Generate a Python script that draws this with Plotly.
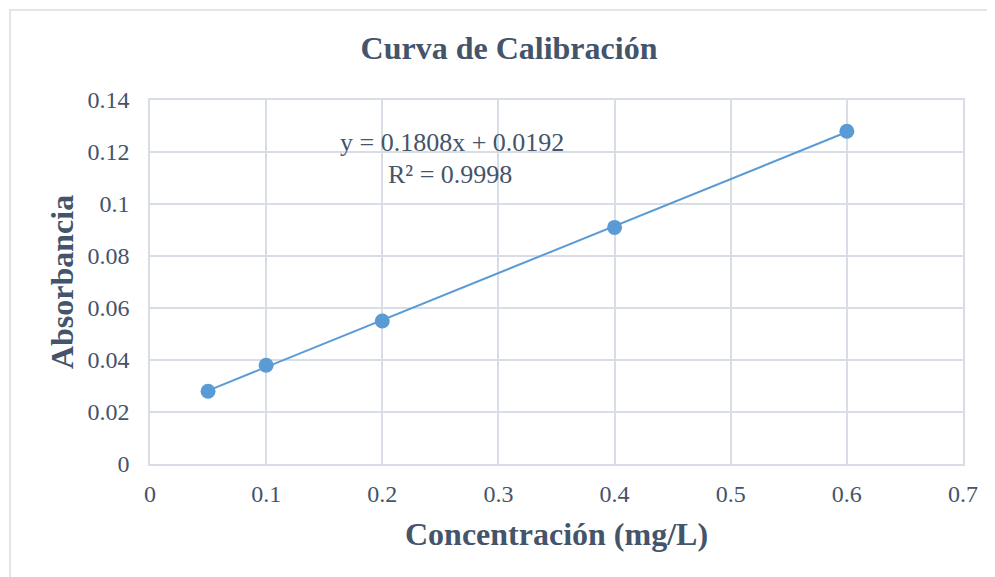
import plotly.graph_objects as go

conc = [0.05, 0.1, 0.2, 0.4, 0.6]
absorb = [0.028, 0.038, 0.055, 0.091, 0.128]
slope = 0.1808
intercept = 0.0192
r2 = 0.9998
x_ticks = [0, 0.1, 0.2, 0.3, 0.4, 0.5, 0.6, 0.7]
y_ticks = [0, 0.02, 0.04, 0.06, 0.08, 0.1, 0.12, 0.14]

text_color = "#44546a"
blue = "#5b9bd5"
grid = "#d9dde6"
font = "Liberation Serif"

trend_x = [min(conc), max(conc)]
trend_y = [slope * v + intercept for v in trend_x]

fig = go.Figure()
fig.add_trace(go.Scatter(x=trend_x, y=trend_y, mode="lines",
                         line=dict(color=blue, width=2), hoverinfo="skip"))
fig.add_trace(go.Scatter(x=conc, y=absorb, mode="markers",
                         marker=dict(color=blue, size=15, line=dict(width=0))))

# page body has an 8px margin, so the figure is 8px smaller and shifted
W, H = 987, 569
fig.update_layout(
    width=W, height=H,
    margin=dict(l=142, r=32, t=92, b=113),
    paper_bgcolor="white", plot_bgcolor="white",
    showlegend=False,
    font=dict(family=font, color=text_color, size=24),
    title=dict(text="<b>Curva de Calibración</b>", x=(509 - 8) / W, xanchor="center",
               y=1 - (48 - 8) / H, yanchor="middle",
               font=dict(family=font, size=32, color=text_color)),
    xaxis=dict(range=[0, 0.7], tickvals=x_ticks, ticktext=[f"{v:g}" for v in x_ticks],
               showgrid=True, gridcolor=grid, gridwidth=1.5, zeroline=False,
               showline=True, linecolor=grid, linewidth=1.5, mirror=True,
               ticks="", ticklabelstandoff=7,
               title=dict(text="<b>Concentración (mg/L)</b>",
                          font=dict(family=font, size=32, color=text_color), standoff=17)),
    yaxis=dict(range=[0, 0.14], tickvals=y_ticks, ticktext=[f"{v:g}" for v in y_ticks],
               showgrid=True, gridcolor=grid, gridwidth=1.5, zeroline=False,
               showline=True, linecolor=grid, linewidth=1.5, mirror=True,
               ticks="", ticklabelstandoff=14,
               title=dict(text="<b>Absorbancia</b>",
                          font=dict(family=font, size=32, color=text_color), standoff=4)),
)

fig.add_annotation(x=0.2596, y=0.1235, xref="x", yref="y",
                   text=f"y = {slope}x + {intercept}",
                   showarrow=False, font=dict(family=font, size=26, color=text_color))
fig.add_annotation(x=0.2585, y=0.1115, xref="x", yref="y",
                   text=f"R² = {r2}",
                   showarrow=False, font=dict(family=font, size=26, color=text_color))

fig.add_shape(type="rect", xref="paper", yref="paper",
              x0=(10 - 150) / 813, x1=(1010 - 150) / 813,
              y0=-(600 - 464) / 364, y1=(464 - 10) / 364,
              line=dict(color=grid, width=1.5), layer="below")

fig.write_html("out.html")
